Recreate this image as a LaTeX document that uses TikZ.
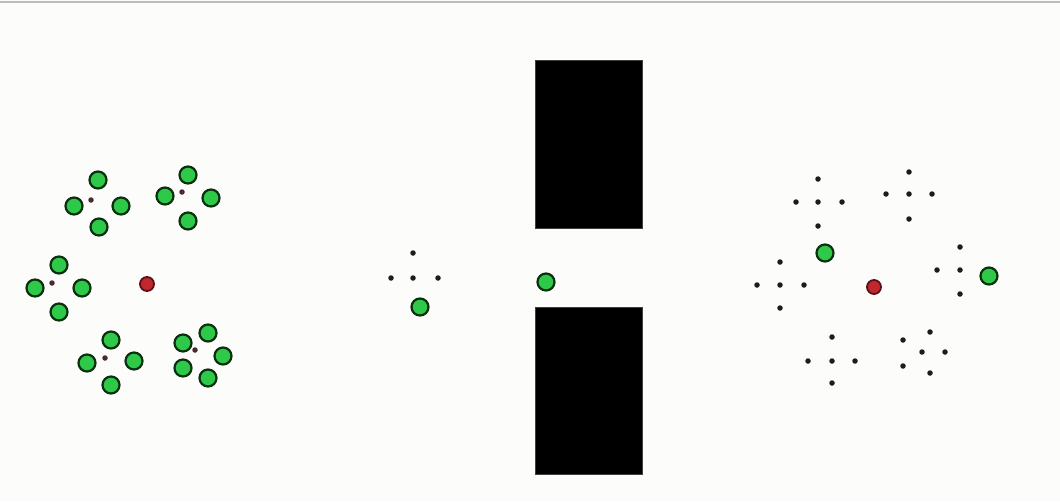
\documentclass[tikz,border=0pt]{standalone}
\definecolor{bgc}{HTML}{FCFCFA}
\definecolor{topline}{HTML}{BDBDBD}
\definecolor{gfill}{HTML}{2FC94A}
\definecolor{gline}{HTML}{0A3010}
\definecolor{rfill}{HTML}{C0282E}
\definecolor{rline}{HTML}{5A1014}
\definecolor{cdot}{HTML}{4A2A32}
\definecolor{bdot}{HTML}{1C1C1C}
\begin{document}
\begin{tikzpicture}[x=1pt,y=-1pt,
  gball/.style={circle,fill=gfill,draw=gline,line width=2.2pt,inner sep=0pt,minimum size=17pt},
  rball/.style={circle,fill=rfill,draw=rline,line width=1.8pt,inner sep=0pt,minimum size=14pt},
  cdotst/.style={circle,fill=cdot,inner sep=0pt,minimum size=5.5pt},
  bdotst/.style={circle,fill=bdot,inner sep=0pt,minimum size=5.5pt},
  wall/.style={rectangle,fill=black,draw=black!75,line width=1pt,inner sep=0pt}]
\useasboundingbox (0,0) rectangle (1060,501);
\fill[bgc] (0,0) rectangle (1060,501);
\fill[topline] (0,0.5) rectangle (1060,2.8);
% walls
\node[wall,minimum width=107pt,minimum height=168pt] (wallT) at (589,144.5) {};
\node[wall,minimum width=107pt,minimum height=167pt] (wallB) at (589,391) {};
% left cluster A
\node[cdotst] (ac) at (91,200) {};
\node[gball] (a1) at (98,180) {};
\node[gball] (a2) at (74,206) {};
\node[gball] (a3) at (121,206) {};
\node[gball] (a4) at (99,227) {};
% B
\node[cdotst] (bc) at (182,192) {};
\node[gball] (b1) at (188,175) {};
\node[gball] (b2) at (165,196) {};
\node[gball] (b3) at (211,198) {};
\node[gball] (b4) at (188,221) {};
% C
\node[cdotst] (cc) at (52,283) {};
\node[gball] (c1) at (59,265) {};
\node[gball] (c2) at (35,288) {};
\node[gball] (c3) at (82,288) {};
\node[gball] (c4) at (59,312) {};
% D
\node[cdotst] (dc) at (105,358) {};
\node[gball] (d1) at (111,340) {};
\node[gball] (d2) at (87,363) {};
\node[gball] (d3) at (134,361) {};
\node[gball] (d4) at (111,385) {};
% E
\node[cdotst] (ec) at (195,350) {};
\node[gball] (e1) at (208,333) {};
\node[gball] (e2) at (183,343) {};
\node[gball] (e3) at (223,356) {};
\node[gball] (e4) at (183,368) {};
\node[gball] (e5) at (208,378) {};
% left red
\node[rball] (rl) at (147,284) {};
% middle
\node[bdotst] (m1) at (413,253) {};
\node[bdotst] (m2) at (391,278) {};
\node[bdotst] (m3) at (413,278) {};
\node[bdotst] (m4) at (438,278) {};
\node[gball] (mg) at (420,307) {};
\node[gball] (sg) at (546,282) {};
% right clusters
\node[bdotst] (p1) at (818,179) {};
\node[bdotst] (p2) at (796,202) {};
\node[bdotst] (p3) at (818,202) {};
\node[bdotst] (p4) at (842,202) {};
\node[bdotst] (p5) at (818,226) {};
\node[bdotst] (q1) at (909,172) {};
\node[bdotst] (q2) at (886,194) {};
\node[bdotst] (q3) at (909,194) {};
\node[bdotst] (q4) at (932,194) {};
\node[bdotst] (q5) at (909,219) {};
\node[bdotst] (s1) at (780,262) {};
\node[bdotst] (s2) at (757,285) {};
\node[bdotst] (s3) at (780,285) {};
\node[bdotst] (s4) at (804,285) {};
\node[bdotst] (s5) at (780,308) {};
\node[bdotst] (t1) at (960,247) {};
\node[bdotst] (t2) at (937,270) {};
\node[bdotst] (t3) at (960,270) {};
\node[bdotst] (t4) at (960,294) {};
\node[bdotst] (u1) at (832,337) {};
\node[bdotst] (u2) at (808,361) {};
\node[bdotst] (u3) at (832,361) {};
\node[bdotst] (u4) at (855,361) {};
\node[bdotst] (u5) at (832,383) {};
\node[bdotst] (v1) at (930,332) {};
\node[bdotst] (v2) at (903,340) {};
\node[bdotst] (v3) at (922,352) {};
\node[bdotst] (v4) at (945,352) {};
\node[bdotst] (v5) at (903,366) {};
\node[bdotst] (v6) at (930,373) {};
\node[gball] (rg1) at (825,253) {};
\node[gball] (rg2) at (989,276) {};
\node[rball] (rr) at (874,287) {};
\end{tikzpicture}
\end{document}
